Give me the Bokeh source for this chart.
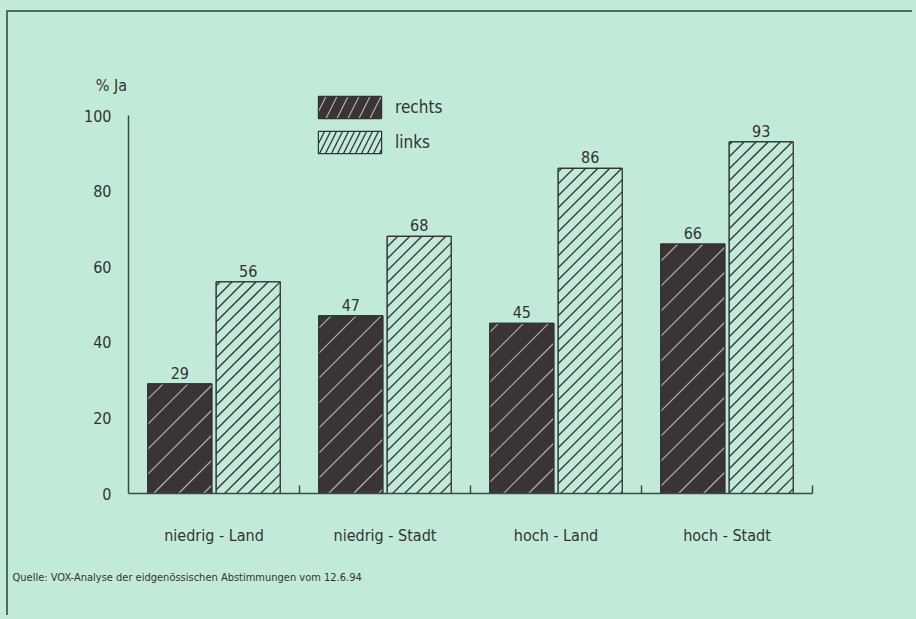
from bokeh.plotting import figure
from bokeh.models import (Range1d, FixedTicker, Legend, LegendItem, Label,
                          ColumnDataSource, GlobalInlineStyleSheet)
from bokeh.core.properties import value
from bokeh.embed import file_html
from bokeh.resources import INLINE
import math

categories = ["niedrig - Land", "niedrig - Stadt", "hoch - Land", "hoch - Stadt"]
rechts = [29, 47, 45, 66]
links = [56, 68, 86, 93]
y_ticks = [0, 20, 40, 60, 80, 100]
series_names = ["rechts", "links"]
y_title = "% Ja"
source_note = "Quelle: VOX-Analyse der eidgenössischen Abstimmungen vom 12.6.94"

BG = "#c1ebd8"
INK = "#333333"
AXIS = "#3b4a43"
DARK = "#3a3434"
FONT = "DejaVu Sans Condensed"

W, H = 906, 605
X0, X1 = -0.7018, 4.5965
Y0, Y1 = -32.80, 127.25
PPX = W / (X1 - X0)
PPY = H / (Y1 - Y0)

n = len(categories)
centers = [i + 0.5 for i in range(n)]
off = 0.2
bw = 0.374


def hatch(xs, tops, width, spacing):
    """45-degree '/' hatch lines clipped to each bar (computed in screen px)."""
    sx0, sy0, sx1, sy1 = [], [], [], []
    for xc, top in zip(xs, tops):
        a, b = (xc - width / 2) * PPX, (xc + width / 2) * PPX
        c0, c1 = 0.0, top * PPY
        k0 = math.floor((c0 - b) / spacing)
        k1 = math.ceil((c1 - a) / spacing)
        for k in range(k0, k1 + 1):
            c = k * spacing          # line: y = x + c
            xs_ = max(a, c0 - c)
            xe_ = min(b, c1 - c)
            if xe_ - xs_ > 0.5:
                sx0.append(xs_ / PPX); sy0.append((xs_ + c) / PPY)
                sx1.append(xe_ / PPX); sy1.append((xe_ + c) / PPY)
    return ColumnDataSource(dict(x0=sx0, y0=sy0, x1=sx1, y1=sy1))


p = figure(width=W, height=H, output_backend="svg", toolbar_location=None,
           x_range=Range1d(X0, X1), y_range=Range1d(Y0, Y1),
           min_border_left=0, min_border_right=0, min_border_top=0,
           min_border_bottom=0)
p.stylesheets = [GlobalInlineStyleSheet(css="body{background:%s;}" % BG)]
p.styles = {"border-top": "2px solid #4e6b5f", "border-left": "2px solid #4e6b5f",
            "margin-left": "6px", "margin-top": "10px"}
p.background_fill_color = BG
p.border_fill_color = BG
p.outline_line_color = None
p.xgrid.visible = False
p.ygrid.visible = False

xr = [c - off for c in centers]
xl = [c + off for c in centers]
src_r = ColumnDataSource(dict(x=xr, top=rechts, lab=[str(v) for v in rechts]))
src_l = ColumnDataSource(dict(x=xl, top=links, lab=[str(v) for v in links]))

# hatched bars used for the legend keys (covered below by the 45-degree version)
k_dark = p.vbar(x="x", top="top", width=bw, source=src_r, fill_color=DARK,
                line_color=INK, line_width=1.2, hatch_pattern="/",
                hatch_color="#b0b0b0", hatch_scale=22, hatch_weight=1.2)
k_light = p.vbar(x="x", top="top", width=bw, source=src_l, fill_color=BG,
                 line_color=INK, line_width=1.2, hatch_pattern="/",
                 hatch_color=INK, hatch_scale=12, hatch_weight=1.3)

p.vbar(x="x", top="top", width=bw, source=src_r, fill_color=DARK, line_color=None)
p.vbar(x="x", top="top", width=bw, source=src_l, fill_color=BG, line_color=None)
p.segment(x0="x0", y0="y0", x1="x1", y1="y1", source=hatch(xr, rechts, bw, 25),
          line_color="#b0b0b0", line_width=1.2)
p.segment(x0="x0", y0="y0", x1="x1", y1="y1", source=hatch(xl, links, bw, 12),
          line_color=INK, line_width=1.3)
p.vbar(x="x", top="top", width=bw, source=src_r, fill_alpha=0, line_color=INK,
       line_width=1.2)
p.vbar(x="x", top="top", width=bw, source=src_l, fill_alpha=0, line_color=INK,
       line_width=1.2)

for s in (src_r, src_l):
    p.text(x="x", y="top", text="lab", source=s, text_align="center",
           text_baseline="bottom", y_offset=-5, text_font=value(FONT),
           text_font_size="16px", text_color=INK)

# axes drawn at fixed data locations so the frame can cover the whole canvas
ya = p.yaxis[0]
ya.fixed_location = 0
ya.bounds = (0, 100)
ya.ticker = FixedTicker(ticks=y_ticks)
ya.major_tick_line_color = None
ya.minor_tick_line_color = None
ya.axis_line_color = AXIS
ya.axis_line_width = 1.5
ya.major_label_standoff = 11
ya.major_label_text_font = FONT
ya.major_label_text_font_size = "16px"
ya.major_label_text_color = INK

xa = p.xaxis[0]
xa.fixed_location = 0
xa.bounds = (0, n)
xa.ticker = FixedTicker(ticks=centers, minor_ticks=[i + 1 for i in range(n)])
xa.major_label_overrides = {c: cat for c, cat in zip(centers, categories)}
xa.major_tick_line_color = None
xa.minor_tick_line_color = AXIS
xa.minor_tick_line_width = 1.5
xa.minor_tick_in = 8
xa.minor_tick_out = 0
xa.axis_line_color = AXIS
xa.axis_line_width = 1.5
xa.major_label_standoff = 26
xa.major_label_text_font = FONT
xa.major_label_text_font_size = "16px"
xa.major_label_text_color = INK

legend = Legend(items=[LegendItem(label=series_names[0], renderers=[k_dark]),
                       LegendItem(label=series_names[1], renderers=[k_light])],
                location=(302, 461), glyph_width=79, glyph_height=28,
                spacing=7, label_standoff=6, padding=0, margin=0,
                border_line_color=None, background_fill_alpha=0,
                label_text_font=FONT, label_text_font_size="17px",
                label_text_color=INK, label_text_baseline="middle")
p.add_layout(legend)

# screen units measured from the frame's (= canvas') bottom-left corner
p.add_layout(Label(x=103, y=532, x_units="screen", y_units="screen", text=y_title,
                   text_align="center", text_baseline="middle",
                   text_font=FONT, text_font_size="16px", text_color=INK))
p.add_layout(Label(x=4, y=40, x_units="screen", y_units="screen",
                   text=source_note, text_align="left", text_baseline="middle",
                   text_font=FONT, text_font_size="11px", text_color=INK))

open("out.html", "w").write(file_html(p, INLINE))
